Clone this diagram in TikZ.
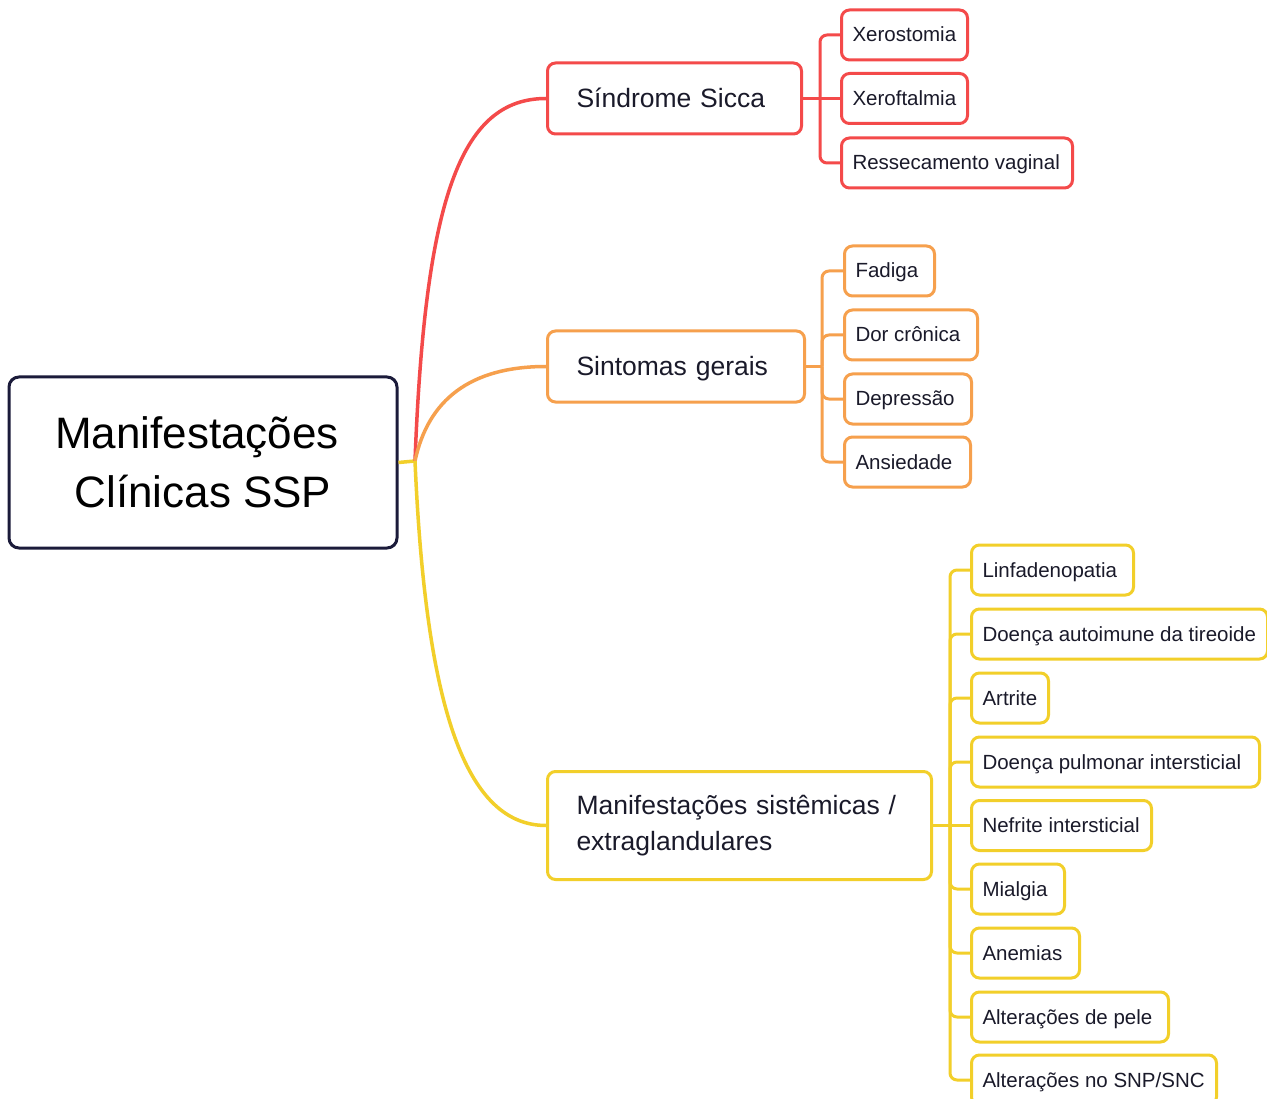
\documentclass[tikz,border=0pt]{standalone}
\usepackage{fontspec}
\setmainfont{Liberation Sans}
\definecolor{cred}{HTML}{F44A4A}
\definecolor{corange}{HTML}{F6A04D}
\definecolor{cyellow}{HTML}{F2CF2A}
\definecolor{cnavy}{HTML}{1B1B3A}
\definecolor{ctext}{HTML}{1A1A2A}
\newcommand{\lbx}[2]{\makebox[#1pt][l]{#2}}
\begin{document}
\begin{tikzpicture}[x=1pt,y=-1pt,
 root/.style={draw=cnavy, line width=3pt, rounded corners=10pt, minimum width=388pt, minimum height=171pt, align=center, font=\fontsize{44}{59}\selectfont, text=black, inner sep=0pt, fill=white},
 mid/.style={rounded corners=8pt, line width=3pt, anchor=west, inner xsep=29pt, inner ysep=0pt, align=left, font=\fontsize{26.5}{36}\selectfont, text=ctext, fill=white},
 leaf/.style={rounded corners=8pt, line width=3pt, anchor=west, inner xsep=11pt, inner ysep=0pt, minimum height=50pt, text height=14pt, text depth=0pt, font=\fontsize{20.5}{24}\selectfont, text=ctext, fill=white},
 leafr/.style={leaf, draw=cred},
 leafo/.style={leaf, draw=corange},
 leafy/.style={leaf, draw=cyellow},
 conn/.style={line width=3pt, rounded corners=7pt},
 mainc/.style={line width=3.5pt},
]
\clip (0,0) rectangle (1267,1099);
\fill[white] (0,0) rectangle (1267,1099);

% root
\node[root] (root) at (203,462.5) {Manifestações\hspace*{12pt}\\Clínicas SSP};
\coordinate (j) at (415,461);

% middle nodes
\node[mid, draw=cred, minimum height=71pt, text width=196pt, text height=19pt, text depth=0pt] (s1) at (546,98.5) {Síndrome Sicca};
\node[mid, draw=corange, minimum height=71pt, text width=199pt, text height=19pt, text depth=0pt] (s2) at (546,366.5) {Sintomas gerais};
\node[mid, draw=cyellow, minimum height=108pt, text width=326pt] (s3) at (546,825.5) {Manifestações sistêmicas /\\extraglandulares};

% red leaves
\node[leafr] (l11) at (840,35) {\lbx{104}{Xerostomia}};
\node[leafr] (l12) at (840,98.5) {\lbx{104}{Xeroftalmia}};
\node[leafr] (l13) at (840,163) {\lbx{209}{Ressecamento vaginal}};

% orange leaves
\node[leafo] (l21) at (843,271) {\lbx{68}{Fadiga}};
\node[leafo] (l22) at (843,335) {\lbx{111}{Dor crônica}};
\node[leafo] (l23) at (843,399) {\lbx{105}{Depressão}};
\node[leafo] (l24) at (843,462) {\lbx{104}{Ansiedade}};

% yellow leaves
\node[leafy] (l31) at (970,570) {\lbx{140}{Linfadenopatia}};
\node[leafy] (l32) at (970,634) {\lbx{274}{Doença autoimune da tireoide}};
\node[leafy] (l33) at (970,698) {\lbx{55}{Artrite}};
\node[leafy] (l34) at (970,762) {\lbx{266}{Doença pulmonar intersticial}};
\node[leafy] (l35) at (970,825.5) {\lbx{158}{Nefrite intersticial}};
\node[leafy] (l36) at (970,889) {\lbx{71}{Mialgia}};
\node[leafy] (l37) at (970,953) {\lbx{86}{Anemias}};
\node[leafy] (l38) at (970,1017) {\lbx{175}{Alterações de pele}};
\node[leafy] (l39) at (970,1080) {\lbx{223}{Alterações no SNP/SNC}};

% main connectors
\draw[mainc, cyellow] (root.east) -- (j);
\draw[mainc, cred] (j) .. controls (425,200) and (460,98.5) .. (s1.west);
\draw[mainc, corange] (j) .. controls (428,400) and (470,366.5) .. (s2.west);
\draw[mainc, cyellow] (j) .. controls (425,690) and (460,825.5) .. (s3.west);

% red bracket
\coordinate (b1) at (820,98.5);
\draw[conn, cred] (s1.east) -- (b1);
\draw[conn, cred] (b1) -- (l12.west);
\draw[conn, cred] (b1) |- (l11.west);
\draw[conn, cred] (b1) |- (l13.west);

% orange bracket
\coordinate (b2) at (822,366.5);
\draw[conn, corange] (s2.east) -- (b2);
\foreach \n in {l21,l22,l23,l24} \draw[conn, corange] (b2) |- (\n.west);

% yellow bracket
\coordinate (b3) at (950,825.5);
\draw[conn, cyellow] (s3.east) -- (b3);
\draw[conn, cyellow] (b3) -- (l35.west);
\foreach \n in {l31,l32,l33,l34,l36,l37,l38,l39} \draw[conn, cyellow] (b3) |- (\n.west);
\end{tikzpicture}
\end{document}
